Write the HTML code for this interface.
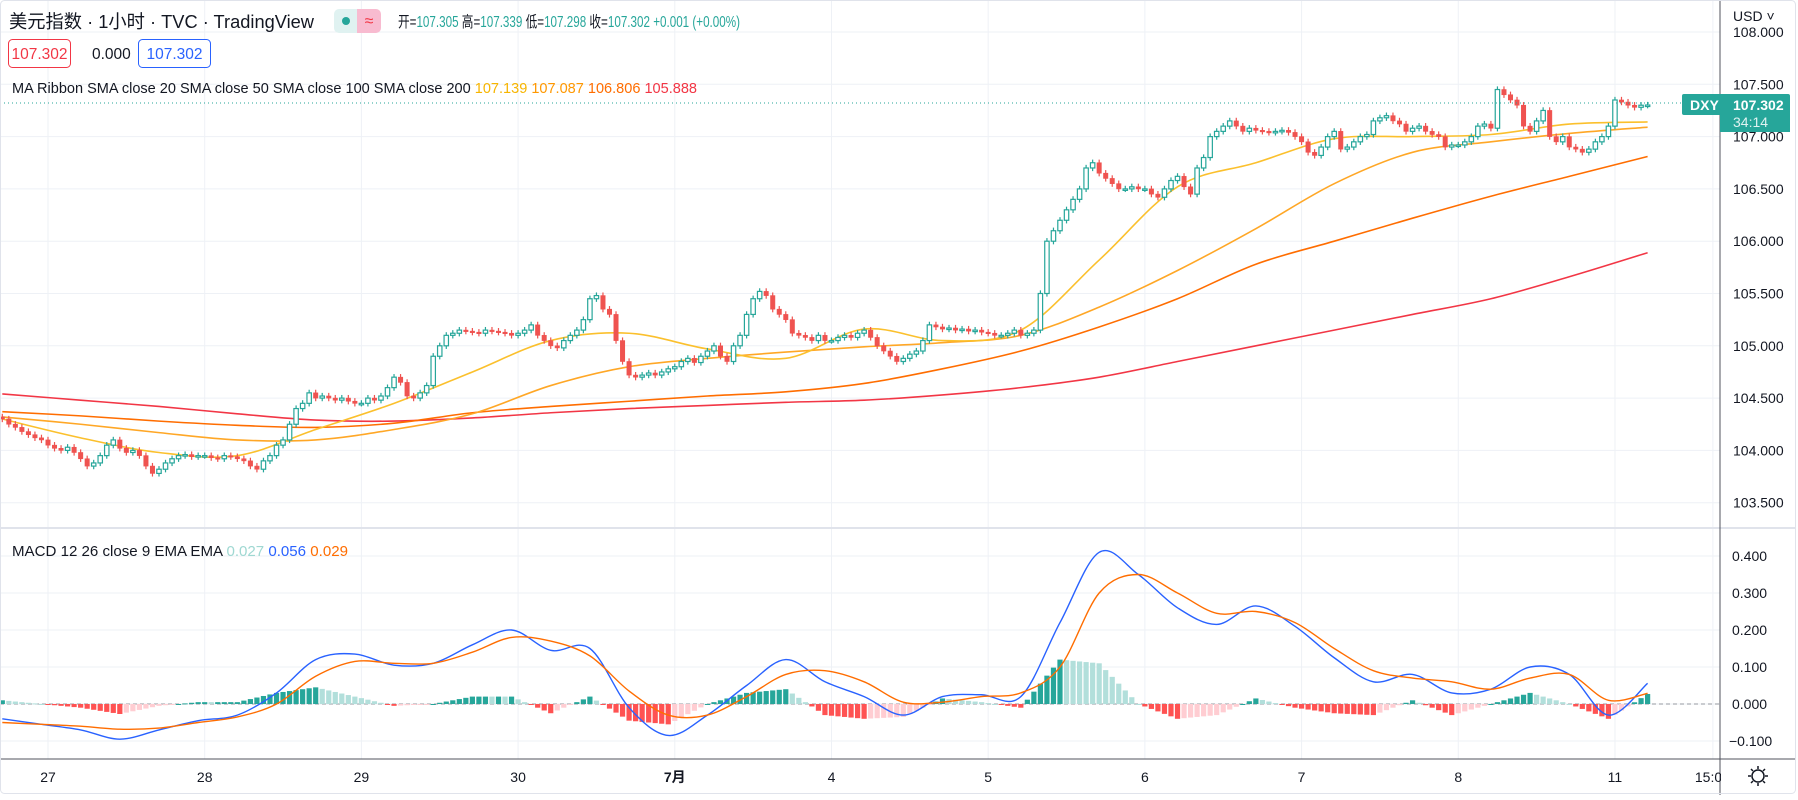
<!DOCTYPE html>
<html><head><meta charset="utf-8">
<style>
html,body{margin:0;padding:0;background:#fff;}
body{width:1798px;height:795px;overflow:hidden;font-family:"Liberation Sans","Noto Sans CJK SC",sans-serif;}
svg text{font-family:"Liberation Sans","Noto Sans CJK SC",sans-serif;}
</style></head>
<body>
<svg id="chart" width="1798" height="795" viewBox="0 0 1798 795" xmlns="http://www.w3.org/2000/svg">
  <defs>
    <clipPath id="pclip"><rect x="0" y="0" width="1720" height="528"/></clipPath>
    <clipPath id="mclip"><rect x="0" y="529" width="1720" height="230"/></clipPath>
  </defs>
  <rect x="0" y="0" width="1798" height="795" fill="#fff"/>
  <g id="grid"></g>
  <g id="ma" clip-path="url(#pclip)"></g>
  <g id="candles" clip-path="url(#pclip)"></g>
  <line x1="0" y1="103" x2="1720" y2="103" stroke="#26a69a" stroke-width="1" stroke-dasharray="1,3"/>
  <g id="macd" clip-path="url(#mclip)"></g>
  <line x1="0" y1="528" x2="1795" y2="528" stroke="#e0e3eb" stroke-width="2"/>
  <line x1="1720" y1="0" x2="1720" y2="795" stroke="#50535e" stroke-width="1"/>
  <line x1="0" y1="759" x2="1795" y2="759" stroke="#50535e" stroke-width="1"/>
  <g id="axes"></g>
  <rect x="0.5" y="0.5" width="1795" height="793" fill="none" stroke="#e0e3eb" rx="4"/>

  <!-- header -->
  <text x="9" y="28" font-size="18.5" fill="#131722" textLength="305" lengthAdjust="spacingAndGlyphs">美元指数 · 1小时 · TVC · TradingView</text>
  <g>
    <rect x="334" y="9" width="26" height="24" fill="#e0f2f1" rx="5"/>
    <rect x="352" y="9" width="8" height="24" fill="#e0f2f1"/>
    <circle cx="346" cy="21" r="4" fill="#26a69a"/>
    <rect x="357" y="9" width="24" height="24" fill="#f8bbd0" rx="5"/>
    <rect x="357" y="9" width="6" height="24" fill="#f8bbd0"/>
    <text x="369" y="26" font-size="16" fill="#f23645" text-anchor="middle">≈</text>
  </g>
  <text x="398" y="27" font-size="15.5" fill="#131722" textLength="342" lengthAdjust="spacingAndGlyphs">开=<tspan fill="#26a69a">107.305</tspan> 高=<tspan fill="#26a69a">107.339</tspan> 低=<tspan fill="#26a69a">107.298</tspan> 收=<tspan fill="#26a69a">107.302 +0.001 (+0.00%)</tspan></text>
  <g>
    <rect x="8.5" y="39.5" width="62" height="28" rx="4" fill="#fff" stroke="#f23645"/>
    <text x="39.5" y="59" font-size="15.5" fill="#f23645" text-anchor="middle">107.302</text>
  </g>
  <text x="92" y="59" font-size="15.5" fill="#131722">0.000</text>
  <g>
    <rect x="138.5" y="39.5" width="72" height="28" rx="4" fill="#fff" stroke="#2962ff"/>
    <text x="174.5" y="59" font-size="15.5" fill="#2962ff" text-anchor="middle">107.302</text>
  </g>
  <text x="12" y="93" font-size="15" fill="#131722" textLength="685" lengthAdjust="spacingAndGlyphs">MA Ribbon SMA close 20 SMA close 50 SMA close 100 SMA close 200 <tspan fill="#f7b500">107.139</tspan> <tspan fill="#ff9800">107.087</tspan> <tspan fill="#ff6d00">106.806</tspan> <tspan fill="#f23645">105.888</tspan></text>
  <text x="12" y="556" font-size="15" fill="#131722" textLength="336" lengthAdjust="spacingAndGlyphs">MACD 12 26 close 9 EMA EMA <tspan fill="#9fd8d2">0.027</tspan> <tspan fill="#2962ff">0.056</tspan> <tspan fill="#ff6d00">0.029</tspan></text>

  <text x="1733" y="21" font-size="14" fill="#131722">USD ˅</text>
  <g>
    <rect x="1682" y="94" width="108" height="21" rx="2" fill="#26a69a"/>
    <rect x="1720" y="113" width="70" height="19" fill="#26a69a"/>
    <text x="1690" y="110" font-size="14" font-weight="bold" fill="#fff">DXY</text>
    <text x="1733" y="110" font-size="14" font-weight="bold" fill="#fff">107.302</text>
    <text x="1733" y="127" font-size="14" fill="#e0f2f1">34:14</text>
  </g>
  <g transform="translate(1758,776)">
    <circle r="6" fill="none" stroke="#131722" stroke-width="1.5"/>
    <path d="M0-10V-7M0 7V10M-10 0H-7M7 0H10M-7-7L-5-5M5 5L7 7M-7 7L-5 5M5-5L7-7" stroke="#131722" stroke-width="1.5"/>
  </g>
</svg>
<script>
// ---- data ----
const closes = [
104.30,104.25,104.22,104.18,104.15,104.12,104.10,
104.05,104.02,104.00,104.03,103.98,103.92,103.85,103.88,103.95,104.05,104.10,104.02,103.98,104.00,103.95,103.85,103.78,103.82,103.88,103.92,103.95,103.96,103.94,103.95,
103.95,103.93,103.92,103.95,103.94,103.92,103.90,103.85,103.82,103.90,103.95,104.05,104.10,104.25,104.40,104.45,104.55,104.50,104.52,104.50,104.48,104.50,104.47,104.45,
104.45,104.50,104.48,104.52,104.60,104.70,104.65,104.52,104.50,104.55,104.62,104.90,105.00,105.10,105.12,105.15,105.14,105.13,105.12,105.15,105.14,105.13,105.12,105.10,
105.12,105.15,105.20,105.10,105.05,105.00,104.98,105.05,105.10,105.15,105.25,105.45,105.48,105.35,105.30,105.05,104.85,104.72,104.70,104.72,104.74,104.72,104.75,104.78,
104.80,104.85,104.88,104.84,104.90,104.95,105.00,104.90,104.85,105.00,105.10,105.30,105.45,105.52,105.48,105.35,105.30,105.25,105.12,105.10,105.08,105.05,105.10,105.05,
105.05,105.08,105.10,105.08,105.12,105.15,105.08,105.00,104.95,104.90,104.85,104.88,104.92,104.95,105.05,105.20,105.18,105.16,105.17,105.15,105.16,105.14,105.15,105.13,
105.12,105.10,105.10,105.12,105.15,105.10,105.12,105.15,105.50,106.00,106.10,106.20,106.30,106.40,106.50,106.70,106.75,106.65,106.60,106.55,106.50,106.50,106.52,106.50,
106.50,106.45,106.42,106.50,106.58,106.62,106.52,106.45,106.70,106.80,107.00,107.05,107.10,107.15,107.10,107.05,107.08,107.06,107.05,107.04,107.05,107.06,107.04,107.00,
106.95,106.85,106.82,106.90,107.00,107.05,106.88,106.90,106.95,107.00,107.02,107.15,107.18,107.20,107.15,107.12,107.05,107.08,107.10,107.05,107.02,107.00,106.90,106.92,
106.92,106.95,107.00,107.10,107.12,107.08,107.45,107.40,107.35,107.30,107.10,107.05,107.15,107.25,107.00,106.95,107.00,106.90,106.88,106.85,106.88,106.95,107.00,107.10,
107.35,107.33,107.30,107.28,107.30,107.302
];
const firstOpen = 104.32;
// MA values sampled every 12 bars
const sma20  = [104.30,104.12,103.98,103.95,104.20,104.45,104.75,105.05,105.12,104.97,104.88,105.16,105.05,105.15,105.82,106.52,106.75,106.98,107.00,107.02,107.12,107.14];
const sma50  = [104.32,104.25,104.17,104.10,104.10,104.20,104.35,104.62,104.80,104.88,104.94,104.99,105.03,105.10,105.37,105.72,106.12,106.55,106.85,106.95,107.03,107.09];
const sma100 = [104.37,104.33,104.28,104.24,104.22,104.26,104.36,104.42,104.47,104.52,104.56,104.64,104.78,104.95,105.18,105.45,105.78,106.00,106.22,106.43,106.62,106.81];
const sma200 = [104.54,104.48,104.42,104.35,104.29,104.28,104.31,104.36,104.40,104.43,104.46,104.48,104.53,104.60,104.70,104.85,105.00,105.15,105.30,105.45,105.66,105.89];
// MACD values sampled every 6 bars
const macdLine = [-0.04,-0.055,-0.07,-0.095,-0.07,-0.045,-0.03,0.03,0.12,0.135,0.105,0.11,0.16,0.2,0.145,0.15,-0.01,-0.085,-0.03,0.05,0.12,0.06,0.02,-0.03,0.02,0.025,0.02,0.22,0.41,0.35,0.26,0.215,0.265,0.21,0.125,0.06,0.08,0.03,0.04,0.10,0.08,-0.03,0.056];
const signalLine = [-0.05,-0.055,-0.06,-0.068,-0.065,-0.05,-0.035,0.0,0.075,0.115,0.11,0.11,0.14,0.18,0.17,0.13,0.035,-0.03,-0.03,0.02,0.08,0.09,0.06,0.005,0.005,0.02,0.03,0.10,0.30,0.35,0.30,0.245,0.25,0.22,0.15,0.09,0.07,0.06,0.04,0.07,0.08,0.01,0.029];
const priceTicks = [108.0,107.5,107.0,106.5,106.0,105.5,105.0,104.5,104.0,103.5];
const macdTicks = [0.4,0.3,0.2,0.1,0.0,-0.1];
const dayLabels = ["27","28","29","30","7月","4","5","6","7","8","11"];

// ---- scales ----
const NS="http://www.w3.org/2000/svg";
const FIRST_BAR=-7, BAR_W=6.529, DAY0_X=48;
const xBar = i => DAY0_X + (FIRST_BAR + i) * BAR_W;
const yP = p => 32 + (108 - p) * 104.6;
const yM = v => 704 - v * 370;
function mk(tag, attrs, parent){const e=document.createElementNS(NS,tag);for(const k in attrs)e.setAttribute(k,attrs[k]);parent.appendChild(e);return e;}
function smooth(pts){let d="M"+pts[0][0]+","+pts[0][1];for(let i=0;i<pts.length-1;i++){const p0=pts[i-1]||pts[i],p1=pts[i],p2=pts[i+1],p3=pts[i+2]||p2;
 d+=" C"+(p1[0]+(p2[0]-p0[0])/6)+","+(p1[1]+(p2[1]-p0[1])/6)+" "+(p2[0]-(p3[0]-p1[0])/6)+","+(p2[1]-(p3[1]-p1[1])/6)+" "+p2[0]+","+p2[1];}return d;}

const grid=document.getElementById('grid'), axes=document.getElementById('axes');
priceTicks.forEach(t=>{
  const l=mk('line',{x1:0,x2:1720,y1:yP(t),y2:yP(t),stroke:'#eef1f6','stroke-width':1},grid);
  
  
  const tx=mk('text',{x:1733,y:yP(t)+5,'font-size':14,fill:'#131722'},axes);
  tx.textContent=t.toFixed(3);
  
  
});
macdTicks.forEach(t=>{
  const l=mk('line',{x1:0,x2:1720,y1:yM(t),y2:yM(t),stroke:'#eef1f6','stroke-width':1},grid);
  
  
  const tx=mk('text',{x:t<0?1729:1732,y:yM(t)+5,'font-size':14,fill:'#131722'},axes);
  tx.textContent=(t<0?'−':'')+Math.abs(t).toFixed(3);
  
  
});
dayLabels.forEach((d,k)=>{
  const x=DAY0_X+k*24*BAR_W;
  const l=mk('line',{x1:x,x2:x,y1:0,y2:759,stroke:'#eef1f6','stroke-width':1},grid);
  
  
  const tx=mk('text',{x:x,y:782,'font-size':14,fill:'#131722','text-anchor':'middle','font-weight':d==='7月'?'bold':'normal'},axes);
  tx.textContent=d;
  
  
});
{const x=DAY0_X+(10*24+15)*BAR_W;
 const l=mk('line',{x1:x,x2:x,y1:0,y2:759,stroke:'#eef1f6','stroke-width':1},grid);
 
 
 const tx=mk('text',{x:x-18,y:782,'font-size':14,fill:'#131722'},axes);
 tx.textContent='15:00';
 
 
 const cover=mk('rect',{x:1721,y:760,width:74,height:34,fill:'#fff'},axes);
 
 
}

// MA ribbon
const maG=document.getElementById('ma');
[[sma200,'#f23645','sma-200-line'],[sma100,'#ff6d00','sma-100-line'],[sma50,'#ffa726','sma-50-line'],[sma20,'#fbc02d','sma-20-line']].forEach(([arr,col,name])=>{
  const pts=arr.map((v,k)=>[xBar(k*12),yP(v)]);
  const p=mk('path',{d:smooth(pts),fill:'none',stroke:col,'stroke-width':1.6},maG);
  
  
});

// candles
const cg=document.getElementById('candles');
closes.forEach((c,i)=>{
  const o=i?closes[i-1]:firstOpen, x=xBar(i), up=c>=o;
  const hi=Math.max(o,c)+0.03, lo=Math.min(o,c)-0.03;
  const col=up?'#26a69a':'#ef5350';
  const w=mk('line',{x1:x,x2:x,y1:yP(hi),y2:yP(lo),stroke:col,'stroke-width':1.2},cg);
  
  
  const top=yP(Math.max(o,c)), h=Math.max(1.5,yP(Math.min(o,c))-top);
  const b=mk('rect',{x:x-2.2,y:top,width:4.4,height:h,fill:up?'#fff':col,stroke:col,'stroke-width':up?1.2:0.6},cg);
  
  
});

// MACD
const mg=document.getElementById('macd');
const zl=mk('line',{x1:0,x2:1720,y1:yM(0),y2:yM(0),stroke:'#9598a1','stroke-width':1,'stroke-dasharray':'4,3'},mg);


const at=(arr,i)=>{const f=i/6,k=Math.min(Math.floor(f),arr.length-2),t=f-k;return arr[k]*(1-t)+arr[k+1]*t;};
let prev=0;
for(let i=0;i<closes.length;i++){
  const h=at(macdLine,i)-at(signalLine,i);
  let col;
  if(h>=0) col=h>=prev?'#26a69a':'#b2dfdb'; else col=h<=prev?'#ff5252':'#ffcdd2';
  prev=h;
  const y0=yM(0), y1=yM(h);
  const r=mk('rect',{x:xBar(i)-2.6,y:Math.min(y0,y1),width:5.2,height:Math.max(1,Math.abs(y1-y0)),fill:col},mg);
  
  
}
[[macdLine,'#2962ff','macd-line'],[signalLine,'#ff6d00','signal-line']].forEach(([arr,col,name])=>{
  const pts=arr.map((v,k)=>[xBar(k*6),yM(v)]);
  const p=mk('path',{d:smooth(pts),fill:'none',stroke:col,'stroke-width':1.4},mg);
  
  
});
</script>
</body></html>
